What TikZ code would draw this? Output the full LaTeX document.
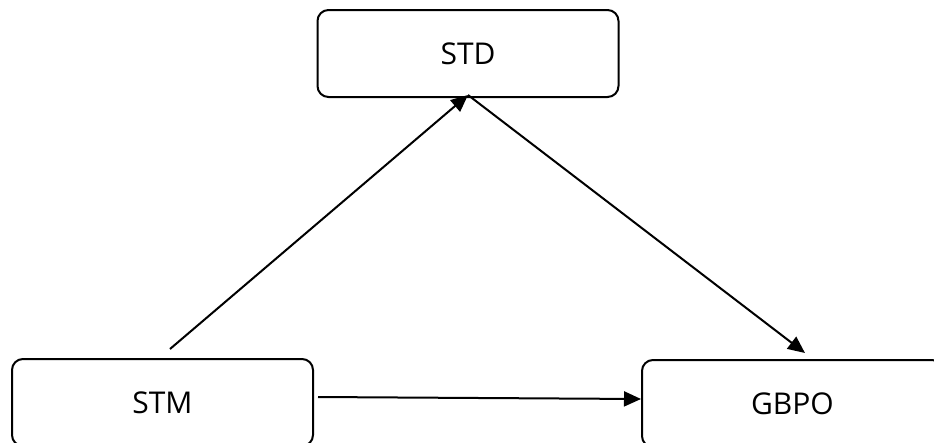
\documentclass[tikz,border=0pt]{standalone}
\usepackage{fontspec}
\setmainfont{Open Sans}
\usetikzlibrary{arrows.meta}
\begin{document}
\begin{tikzpicture}[x=1pt,y=-1pt,
  box/.style={draw=black, line width=2pt, rounded corners=11pt, minimum width=301pt, minimum height=87pt, inner sep=0pt, font=\fontsize{30}{34}\selectfont},
  conn/.style={draw=black, line width=2pt, -{Triangle[length=17pt,width=15pt]}}]
\useasboundingbox (0,0) rectangle (934,442);
\fill[white] (0,0) rectangle (934,442);
\node[box] (std) at (468,53.5) {STD};
\node[box] (stm) at (162.5,402.5) {STM};
\node[box] (gbpo) at (792.5,403.5) {GBPO};
\coordinate (a1) at (170,349);
\coordinate (a2) at (468,95);
\coordinate (g1) at (805,353);
\coordinate (h1) at (318,397);
\coordinate (h2) at (641,399);
\draw[conn] (a1) -- (a2);
\draw[conn] (a2) -- (g1);
\draw[conn] (h1) -- (h2);
\end{tikzpicture}
\end{document}
